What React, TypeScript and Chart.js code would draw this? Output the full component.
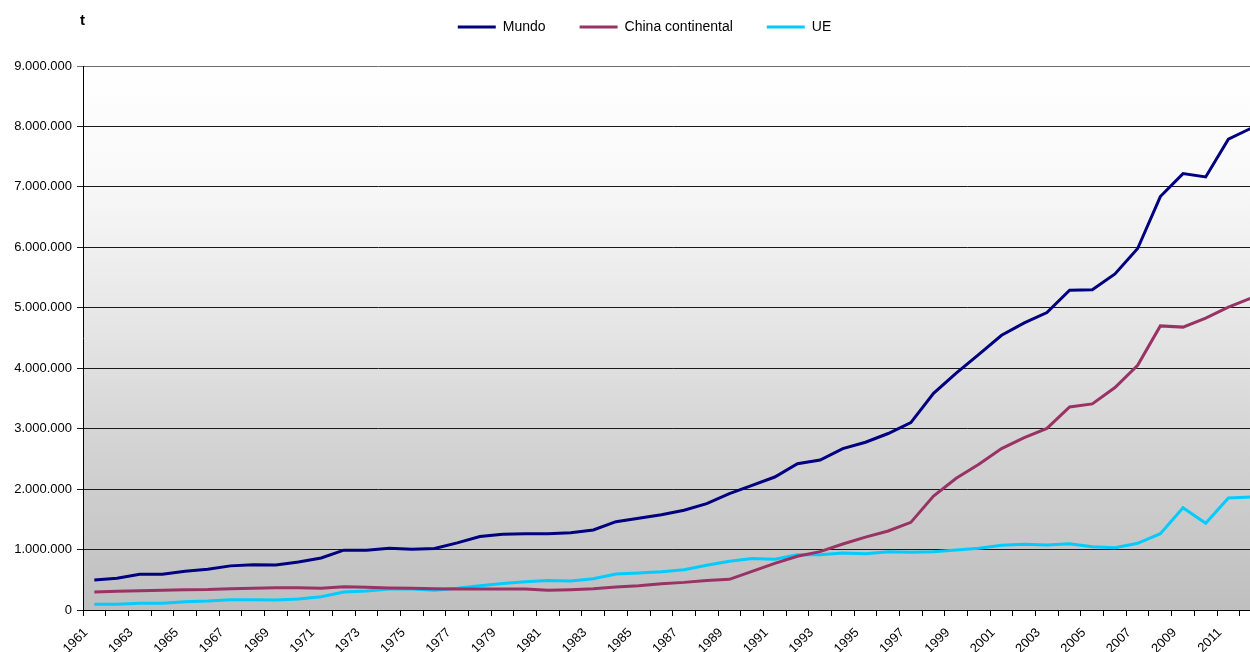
import React, { useEffect, useRef } from 'react';
import { Chart, registerables } from 'chart.js';

Chart.register(...registerables);

const FONT = "'Liberation Sans', Arial, Helvetica, sans-serif";

const years = [
  '1961', '1962', '1963', '1964', '1965', '1966', '1967', '1968', '1969', '1970',
  '1971', '1972', '1973', '1974', '1975', '1976', '1977', '1978', '1979', '1980',
  '1981', '1982', '1983', '1984', '1985', '1986', '1987', '1988', '1989', '1990',
  '1991', '1992', '1993', '1994', '1995', '1996', '1997', '1998', '1999', '2000',
  '2001', '2002', '2003', '2004', '2005', '2006', '2007', '2008', '2009', '2010',
  '2011', '2012',
];

const mundo = [
  496000, 524000, 590000, 590000, 640000, 673000, 730000, 750000, 745000, 794000,
  860000, 990000, 988000, 1020000, 1005000, 1018000, 1110000, 1215000, 1252000, 1263000,
  1263000, 1280000, 1324000, 1461000, 1517000, 1577000, 1650000, 1760000, 1925000, 2063000,
  2200000, 2420000, 2480000, 2669000, 2775000, 2920000, 3100000, 3585000, 3920000, 4230000,
  4545000, 4750000, 4920000, 5290000, 5300000, 5560000, 5980000, 6840000, 7220000, 7165000,
  7790000, 7970000,
];

const chinaContinental = [
  298000, 309000, 320000, 325000, 336000, 340000, 353000, 360000, 369000, 370000,
  360000, 386000, 375000, 364000, 360000, 353000, 347000, 347000, 347000, 347000,
  325000, 336000, 353000, 380000, 400000, 435000, 457000, 490000, 507000, 640000,
  772000, 888000, 965000, 1092000, 1205000, 1307000, 1450000, 1886000, 2180000, 2410000,
  2670000, 2850000, 3005000, 3360000, 3410000, 3680000, 4050000, 4700000, 4680000, 4830000,
  5010000, 5160000,
];

const ue = [
  94000, 94000, 110000, 110000, 138000, 149000, 170000, 170000, 165000, 182000,
  220000, 298000, 314000, 347000, 347000, 325000, 358000, 400000, 440000, 469000,
  490000, 480000, 518000, 596000, 612000, 634000, 667000, 740000, 806000, 850000,
  839000, 915000, 915000, 943000, 932000, 965000, 955000, 965000, 993000, 1020000,
  1070000, 1087000, 1075000, 1097000, 1047000, 1030000, 1103000, 1263000, 1693000, 1434000,
  1853000, 1870000,
];

const seriesNames = ['Mundo', 'China continental', 'UE'];
const seriesColors = ['#000080', '#993366', '#00ccff'];
const unitLabel = 't';

const CANVAS_W = 1289;
const CANVAS_H = 652;

function fmt(v: number): string {
  return String(Math.round(v)).replace(/\B(?=(\d{3})+(?!\d))/g, '.');
}

export default function App() {
  const ref = useRef<HTMLCanvasElement | null>(null);

  useEffect(() => {
    if (!ref.current) return;

    const bgPlugin = {
      id: 'plotBackground',
      beforeDraw(chart: any) {
        const { ctx, chartArea: a } = chart;
        const g = ctx.createLinearGradient(0, a.top, 0, a.bottom);
        g.addColorStop(0, '#ffffff');
        g.addColorStop(0.2, '#f9f9f9');
        g.addColorStop(0.5, '#e4e4e4');
        g.addColorStop(0.7, '#d3d3d3');
        g.addColorStop(1, '#bfbfbf');
        ctx.save();
        ctx.fillStyle = g;
        ctx.fillRect(a.left, a.top, a.right - a.left, a.bottom - a.top);
        ctx.restore();
      },
    };

    const unitPlugin = {
      id: 'unitLabel',
      afterDraw(chart: any) {
        const { ctx } = chart;
        ctx.save();
        ctx.font = `bold 15px ${FONT}`;
        ctx.fillStyle = '#000';
        ctx.textBaseline = 'middle';
        ctx.textAlign = 'left';
        ctx.fillText(unitLabel, 80, 21);
        ctx.restore();
      },
    };

    const values = [mundo, chinaContinental, ue];

    const chart = new Chart(ref.current, {
      type: 'line',
      data: {
        labels: years,
        datasets: values.map((d, i) => ({
          label: seriesNames[i],
          data: d,
          borderColor: seriesColors[i],
          backgroundColor: seriesColors[i],
          borderWidth: 3,
          pointRadius: 0,
          tension: 0,
          fill: false,
          yAxisID: 'y',
        })),
      },
      options: {
        responsive: false,
        devicePixelRatio: 1,
        animation: false,
        layout: { padding: { top: -14, right: 0, bottom: 0, left: 0 } },
        plugins: {
          legend: {
            position: 'top',
            labels: {
              usePointStyle: true,
              pointStyle: 'line',
              pointStyleWidth: 38,
              padding: 34,
              color: '#000',
              font: { family: FONT, size: 14 },
            },
          },
          subtitle: {
            display: true,
            text: '',
            weight: 500,
            position: 'top',
            font: { size: 10 },
            padding: { top: 0, bottom: 10 },
          },
          tooltip: { enabled: false },
        },
        scales: {
          x: {
            type: 'category',
            offset: true,
            grid: {
              offset: true,
              drawOnChartArea: false,
              drawTicks: true,
              tickLength: 6,
              color: '#000',
            },
            border: { display: true, color: '#000', width: 1 },
            ticks: {
              autoSkip: false,
              maxRotation: 45,
              minRotation: 45,
              color: '#000',
              padding: 9,
              labelOffset: -8.5,
              font: { family: FONT, size: 13 },
              callback: (_v: any, i: number) => (i % 2 === 0 ? years[i] : ''),
            },
            afterFit: (s: any) => {
              s.height = 42;
            },
          },
          y: {
            position: 'left',
            min: 0,
            max: 9000000,
            grid: {
              color: (c: any) => (c.tick && c.tick.value === 9000000 ? '#6e6e6e' : '#1a1a1a'),
              tickLength: 6,
              lineWidth: 1,
            },
            border: { display: true, color: '#000', width: 1 },
            ticks: {
              stepSize: 1000000,
              color: '#000',
              padding: 5,
              font: { family: FONT, size: 13 },
              callback: (v: any) => fmt(Number(v)),
            },
            afterFit: (s: any) => {
              s.width = 83;
            },
          },
          yRightSpace: {
            type: 'linear',
            position: 'right',
            display: true,
            grid: { display: false, drawOnChartArea: false, drawTicks: false },
            border: { display: false },
            ticks: { display: false },
            afterFit: (s: any) => {
              s.width = CANVAS_W - 1262.4;
            },
          },
        },
      },
      plugins: [bgPlugin, unitPlugin],
    } as any);

    return () => chart.destroy();
  }, []);

  return (
    <div
      style={{
        position: 'fixed',
        left: 0,
        top: 0,
        width: 1250,
        height: 652,
        overflow: 'hidden',
        background: '#fff',
      }}
    >
      <canvas
        ref={ref}
        width={CANVAS_W}
        height={CANVAS_H}
        style={{ display: 'block', width: CANVAS_W, height: CANVAS_H }}
      />
    </div>
  );
}
